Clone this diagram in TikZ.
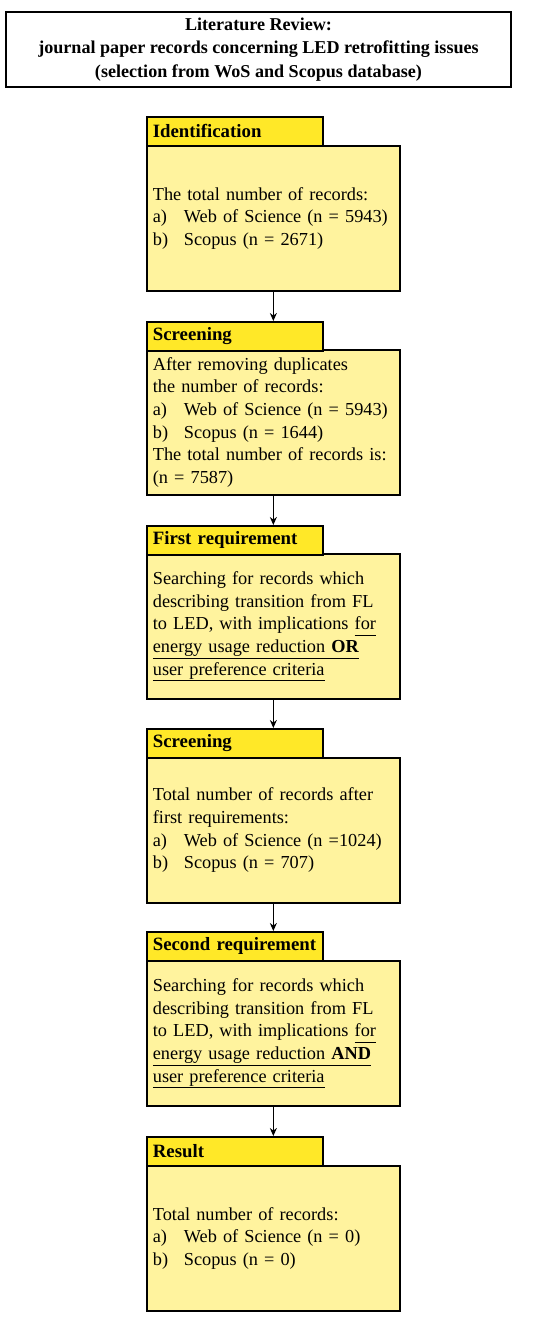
\documentclass[tikz,border=0pt]{standalone}
\usepackage{fontspec}
\setmainfont{Liberation Serif}
\usetikzlibrary{arrows.meta}
\definecolor{tabyellow}{RGB}{255,232,40}
\definecolor{bodyyellow}{RGB}{255,243,158}
\newcommand\ulx[1]{\underline{#1\vphantom{gy}}}
\newcommand\itm[1]{\makebox[31pt][l]{#1}}
\begin{document}
\begin{tikzpicture}[x=1pt,y=-1pt,
  titlebox/.style={draw=black,line width=1.7pt,fill=white,minimum width=505pt,minimum height=75pt,align=center,inner sep=0pt,font=\fontsize{18.1}{23.3}\selectfont\bfseries},
  tabbox/.style={draw=black,line width=1.7pt,fill=tabyellow,anchor=north west,text width=164pt,inner xsep=6pt,inner ysep=0pt,minimum height=29pt,align=left,font=\fontsize{18.8}{22.7}\selectfont\bfseries},
  bodybox/.style={draw=black,line width=1.7pt,fill=bodyyellow,anchor=north west,text width=241pt,inner xsep=6pt,inner ysep=0pt,minimum height=145pt,align=left,font=\fontsize{18.3}{22.7}\selectfont},
  flow/.style={draw=black,line width=1.6pt,-{Stealth[length=8pt,width=7pt]}}]
\useasboundingbox (0,0) rectangle (550,1326);
\node[titlebox] (title) at (258.5,49.5) {Literature Review:\\journal paper records concerning LED retrofitting issues\\(selection from WoS and Scopus database)};

\node[bodybox] (b1) at (146,145) {The total number of records:\\\itm{a)}Web of Science (n = 5943)\\\itm{b)}Scopus (n = 2671)};
\node[tabbox] (t1) at (146,116) {Identification};

\node[bodybox] (b2) at (146,349) {After removing duplicates\\the number of records:\\\itm{a)}Web of Science (n = 5943)\\\itm{b)}Scopus (n = 1644)\\The total number of records is:\\(n = 7587)};
\node[tabbox] (t2) at (146,321) {Screening};

\node[bodybox] (b3) at (146,553) {Searching for records which\\describing transition from FL\\to LED, with implications \ulx{for}\\\ulx{energy usage reduction \textbf{OR}}\\\ulx{user preference criteria}};
\node[tabbox] (t3) at (146,525) {First requirement};

\node[bodybox] (b4) at (146,757) {Total number of records after\\first requirements:\\\itm{a)}Web of Science (n =1024)\\\itm{b)}Scopus (n = 707)};
\node[tabbox] (t4) at (146,728) {Screening};

\node[bodybox] (b5) at (146,960) {Searching for records which\\describing transition from FL\\to LED, with implications \ulx{for}\\\ulx{energy usage reduction \textbf{AND}}\\\ulx{user preference criteria}};
\node[tabbox] (t5) at (146,931) {Second requirement};

\node[bodybox] (b6) at (146,1165) {Total number of records:\\\itm{a)}Web of Science (n = 0)\\\itm{b)}Scopus (n = 0)};
\node[tabbox] (t6) at (146,1136) {Result};

\draw[flow] (b1.south) -- (b1.south |- t2.north);
\draw[flow] (b2.south) -- (b2.south |- t3.north);
\draw[flow] (b3.south) -- (b3.south |- t4.north);
\draw[flow] (b4.south) -- (b4.south |- t5.north);
\draw[flow] (b5.south) -- (b5.south |- t6.north);
\end{tikzpicture}
\end{document}
